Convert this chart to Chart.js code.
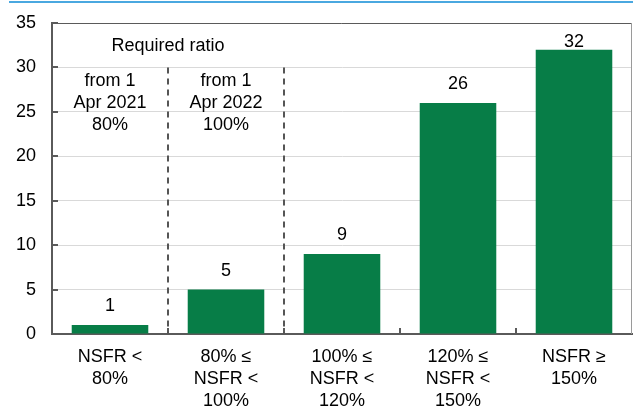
<!DOCTYPE html>
<html>
<head>
<meta charset="utf-8">
<script src="https://cdn.jsdelivr.net/npm/chart.js@4"></script>
<style>
  html, body { margin: 0; padding: 0; background: #fff; }
  #wrap { width: 633px; height: 412px; }
</style>
</head>
<body>
<div id="wrap"><canvas id="c" width="633" height="412"></canvas></div>
<script>
const categories = [
  ['NSFR <', '80%'],
  ['80% \u2264', 'NSFR <', '100%'],
  ['100% \u2264', 'NSFR <', '120%'],
  ['120% \u2264', 'NSFR <', '150%'],
  ['NSFR \u2265', '150%']
];
const banks = [1, 5, 9, 26, 32];
const yTicks = [0, 5, 10, 15, 20, 25, 30, 35];
const phaseNotes = [
  ['from 1', 'Apr 2021', '80%'],
  ['from 1', 'Apr 2022', '100%']
];
const headerNote = 'Required ratio';

const FONT = '"Liberation Sans", Arial, sans-serif';
const FSIZE = 18;
const GREEN = '#077d47';
const AXIS = '#5a5a5a';

const decor = {
  id: 'decor',
  beforeDraw(chart) {
    const ctx = chart.ctx;
    ctx.save();
    ctx.fillStyle = '#fff';
    ctx.fillRect(0, 0, chart.width, chart.height);
    ctx.strokeStyle = '#4aa8e0';
    ctx.lineWidth = 2;
    ctx.beginPath();
    ctx.moveTo(9, 2);
    ctx.lineTo(chart.width, 2);
    ctx.stroke();
    ctx.restore();
  },
  afterDatasetsDraw(chart) {
    const ctx = chart.ctx;
    const a = chart.chartArea;
    const x = chart.scales.x, y = chart.scales.y;
    ctx.save();
    // top and right frame
    ctx.strokeStyle = AXIS;
    ctx.lineWidth = 1;
    ctx.beginPath();
    ctx.moveTo(a.left, a.top + 0.5);
    ctx.lineTo(a.right - 0.5, a.top + 0.5);
    ctx.stroke();
    ctx.strokeStyle = '#9a9a9a';
    ctx.beginPath();
    ctx.moveTo(a.right - 0.5, a.top);
    ctx.lineTo(a.right - 0.5, a.bottom);
    ctx.stroke();

    // inward y ticks
    ctx.strokeStyle = AXIS;
    ctx.lineWidth = 2;
    yTicks.forEach(v => {
      const py = Math.round(y.getPixelForValue(v));
      ctx.beginPath();
      ctx.moveTo(a.left, py);
      ctx.lineTo(a.left + 6, py);
      ctx.stroke();
    });
    // inward x ticks at category boundaries
    for (let i = 1; i < categories.length; i++) {
      const px = Math.round((x.getPixelForValue(i - 1) + x.getPixelForValue(i)) / 2);
      ctx.beginPath();
      ctx.moveTo(px, a.bottom);
      ctx.lineTo(px, a.bottom - 6);
      ctx.stroke();
    }
    // dashed phase separators
    ctx.setLineDash([6, 5]);
    ctx.lineWidth = 2;
    ctx.strokeStyle = '#555';
    for (let i = 1; i <= phaseNotes.length; i++) {
      const px = Math.round((x.getPixelForValue(i - 1) + x.getPixelForValue(i)) / 2);
      ctx.beginPath();
      ctx.moveTo(px, y.getPixelForValue(30));
      ctx.lineTo(px, a.bottom);
      ctx.stroke();
    }
    ctx.setLineDash([]);

    // annotation text
    ctx.fillStyle = '#000';
    ctx.font = FSIZE + 'px ' + FONT;
    ctx.textAlign = 'center';
    ctx.textBaseline = 'middle';
    const hx = (x.getPixelForValue(0) + x.getPixelForValue(1)) / 2;
    ctx.fillText(headerNote, hx, y.getPixelForValue(32.4));
    phaseNotes.forEach((lines, i) => {
      const cx = x.getPixelForValue(i);
      const y0 = y.getPixelForValue(28.5);
      lines.forEach((t, j) => ctx.fillText(t, cx, y0 + j * 22));
    });

    // value labels
    const meta = chart.getDatasetMeta(0);
    meta.data.forEach((bar, i) => {
      const ly = Math.max(bar.y - 19, a.top + 19);
      ctx.fillText(String(banks[i]), bar.x, ly);
    });
    ctx.restore();
  }
};

new Chart(document.getElementById('c'), {
  type: 'bar',
  data: {
    labels: categories,
    datasets: [{
      data: banks,
      backgroundColor: GREEN,
      borderWidth: 0,
      barPercentage: 0.66,
      categoryPercentage: 1
    }]
  },
  options: {
    responsive: false,
    animation: false,
    events: [],
    layout: { padding: { top: 23, right: 1, left: 0, bottom: 0 } },
    plugins: {
      legend: { display: false },
      tooltip: { enabled: false }
    },
    scales: {
      x: {
        offset: true,
        grid: { display: false, drawTicks: false },
        border: { color: AXIS, width: 2 },
        ticks: {
          color: '#000',
          padding: 12,
          maxRotation: 0,
          autoSkip: false,
          font: { family: FONT, size: FSIZE, lineHeight: 22 / FSIZE }
        },
        afterFit(s) { s.height = 78; s.paddingLeft = 0; s.paddingRight = 0; }
      },
      y: {
        min: 0,
        max: 35,
        afterBuildTicks(s) { s.ticks = yTicks.map(v => ({ value: v })); },
        grid: {
          color: ctx => ctx.tick && ctx.tick.value === 35 ? 'rgba(0,0,0,0)' : '#d9d9d9',
          lineWidth: 1,
          drawTicks: false
        },
        border: { color: AXIS, width: 2 },
        ticks: {
          color: '#000',
          padding: 16,
          font: { family: FONT, size: FSIZE }
        },
        afterFit(s) { s.width = 52; s.paddingTop = 0; s.paddingBottom = 0; }
      }
    }
  },
  plugins: [decor]
});
</script>
</body>
</html>
